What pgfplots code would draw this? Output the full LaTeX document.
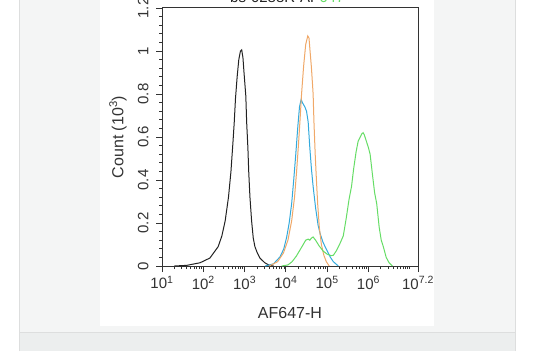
\documentclass[border=0pt]{standalone}
\usepackage{pgfplots}
\pgfplotsset{compat=1.18}
\usepackage{pgfplotstable}
\usepackage{fontspec}
\setmainfont{Liberation Sans}
\definecolor{panel}{HTML}{F4F5F5}
\definecolor{panelline}{HTML}{DDDEDE}
\definecolor{bottomgray}{HTML}{ECEEEE}
\definecolor{axcol}{HTML}{333333}
\definecolor{cblack}{HTML}{222222}
\definecolor{corange}{HTML}{F0A868}
\definecolor{cblue}{HTML}{33AADD}
\definecolor{cgreen}{HTML}{66DD66}

\pgfplotstableread{
lx y
1.3 0
1.6 0.003
1.92 0.015
2.16 0.037
2.36 0.09
2.45 0.14
2.53 0.21
2.61 0.32
2.67 0.44
2.72 0.58
2.75 0.67
2.78 0.78
2.82 0.88
2.86 0.96
2.90 1.0
2.93 1.005
2.96 0.97
2.99 0.89
3.03 0.79
3.05 0.67
3.08 0.55
3.10 0.44
3.13 0.32
3.17 0.21
3.21 0.13
3.25 0.09
3.31 0.06
3.37 0.037
3.49 0.015
3.6 0.003
3.7 0
}\blackdata

\pgfplotstableread{
lx y
3.5 0
3.7 0.01
3.86 0.043
3.95 0.08
4.02 0.135
4.08 0.20
4.14 0.29
4.19 0.40
4.24 0.52
4.29 0.65
4.33 0.74
4.37 0.775
4.40 0.76
4.43 0.75
4.46 0.74
4.50 0.72
4.54 0.67
4.58 0.55
4.62 0.45
4.66 0.37
4.72 0.27
4.78 0.19
4.83 0.15
4.90 0.11
4.99 0.074
5.08 0.04
5.15 0.02
5.27 0
}\bluedata

\pgfplotstableread{
lx y
3.6 0
3.8 0.02
3.94 0.06
4.05 0.12
4.14 0.21
4.21 0.32
4.26 0.44
4.30 0.55
4.34 0.67
4.38 0.80
4.43 0.93
4.48 1.03
4.53 1.07
4.56 1.06
4.59 0.99
4.62 0.92
4.66 0.80
4.68 0.67
4.71 0.52
4.74 0.40
4.77 0.29
4.81 0.18
4.86 0.10
4.92 0.05
4.98 0.02
5.05 0
}\orangedata

\pgfplotstableread{
lx y
3.9 0
4.05 0.005
4.15 0.02
4.25 0.045
4.34 0.074
4.42 0.10
4.48 0.12
4.54 0.125
4.58 0.12
4.62 0.13
4.66 0.135
4.72 0.12
4.80 0.095
4.90 0.07
5.0 0.055
5.1 0.048
5.15 0.05
5.22 0.07
5.30 0.10
5.39 0.14
5.46 0.22
5.53 0.31
5.59 0.37
5.64 0.45
5.70 0.53
5.75 0.58
5.80 0.60
5.84 0.615
5.87 0.62
5.90 0.61
5.95 0.58
6.0 0.55
6.04 0.52
6.10 0.42
6.15 0.34
6.20 0.29
6.26 0.18
6.31 0.12
6.36 0.09
6.43 0.04
6.50 0.015
6.58 0
}\greendata

\begin{document}
\begin{tikzpicture}[x=1pt,y=1pt]
\useasboundingbox (0,0) rectangle (540,351);
\clip (0,0) rectangle (540,351);
\fill[white] (0,0) rectangle (540,351);
\fill[bottomgray] (19,0) rectangle (515,19);
\fill[panel] (19,19) rectangle (515,351);
\draw[panelline, line width=0.8pt] (19,0) -- (19,351);
\draw[panelline, line width=0.8pt] (515,0) -- (515,351);
\draw[panelline, line width=0.8pt] (19,19) -- (515,19);
\fill[white] (100,25) rectangle (434,351);
\node[anchor=base west, inner sep=0pt, font=\fontsize{15}{15}\selectfont, text=cblack] at (230,348) {bs-0288R-AF\textcolor{cgreen}{647}};
\begin{axis}[
  at={(162pt,85pt)}, anchor=south west,
  scale only axis, width=256pt, height=258pt,
  xmode=log, xmin=10, xmax=15848932,
  ymin=0, ymax=1.2,
  axis line style={axcol, line width=1pt},
  tick pos=left, tick align=outside,
  major tick length=6pt, minor tick length=3pt,
  tick style={axcol, line width=0.8pt},
  xtick={10,100,1000,10000,100000,1000000,15848932},
  xticklabels={10\textsuperscript{1},10\textsuperscript{2},10\textsuperscript{3},10\textsuperscript{4},10\textsuperscript{5},10\textsuperscript{6},10\textsuperscript{7.2}},
  minor xtick={20,30,40,50,60,70,80,90,200,300,400,500,600,700,800,900,2000,3000,4000,5000,6000,7000,8000,9000,20000,30000,40000,50000,60000,70000,80000,90000,200000,300000,400000,500000,600000,700000,800000,900000,2000000,3000000,4000000,5000000,6000000,7000000,8000000,9000000,10000000},
  ytick={0,0.2,0.4,0.6,0.8,1,1.2},
  yticklabels={0,0.2,0.4,0.6,0.8,1,1.2},
  minor y tick num=4,
  ticklabel style={font=\fontsize{15}{15}\selectfont, text=axcol},
  yticklabel style={rotate=90, anchor=south},
  yticklabel shift=4pt,
  xticklabel shift=1pt,
  xlabel={AF647-H},
  xlabel style={at={(axis description cs:0.5,0)}, anchor=center, yshift=-47pt, font=\fontsize{16}{16}\selectfont, text=axcol},
  ylabel={Count (10\textsuperscript{3})},
  ylabel style={at={(axis description cs:0,0.5)}, anchor=center, yshift=44pt, font=\fontsize{16}{16}\selectfont, text=axcol},
  clip=false,
]
\addplot[cblack, line width=1pt] table[x expr={10^(\thisrow{lx})}, y=y] {\blackdata};
\addplot[cblue, line width=1pt] table[x expr={10^(\thisrow{lx})}, y=y] {\bluedata};
\addplot[corange, line width=1pt] table[x expr={10^(\thisrow{lx})}, y=y] {\orangedata};
\addplot[cgreen, line width=1pt] table[x expr={10^(\thisrow{lx})}, y=y] {\greendata};
\end{axis}
\end{tikzpicture}
\end{document}
